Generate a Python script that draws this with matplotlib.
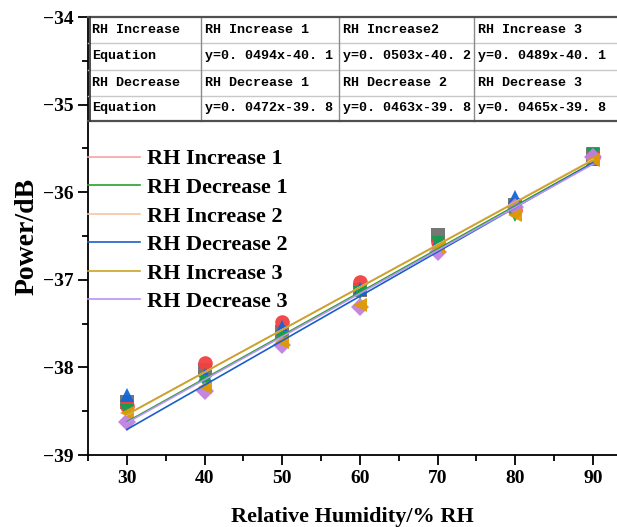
import numpy as np
import matplotlib
matplotlib.use("Agg")
import matplotlib.pyplot as plt

plt.rcParams['font.family'] = ['Liberation Serif', 'DejaVu Serif']
plt.rcParams['font.weight'] = 'bold'
plt.rcParams['axes.labelweight'] = 'bold'

# ---- data ----
rh = [30, 40, 50, 60, 70, 80, 90]
pts_sq = [-38.40, -38.03, -37.60, -37.12, -36.49, -36.15, -35.57]
pts_circ = [-38.44, -37.95, -37.48, -37.03, -36.57, -36.20, -35.60]
pts_up = [-38.32, -38.09, -37.54, -37.11, -36.57, -36.05, -35.62]
pts_down = [-38.50, -38.17, -37.66, -37.15, -36.58, -36.26, -35.56]
pts_diam = [-38.62, -38.27, -37.74, -37.31, -36.68, -36.17, -35.60]
pts_left = [-38.52, -38.22, -37.71, -37.29, -36.62, -36.26, -35.63]

fit_names = ['RH Increase 1', 'RH Decrease 1', 'RH Increase 2',
             'RH Decrease 2', 'RH Increase 3', 'RH Decrease 3']
fit_slopes = [0.0485, 0.0493, 0.0486, 0.0507, 0.0484, 0.0492]
fit_intercepts = [-39.995, -40.100, -40.000, -40.230, -39.990, -40.108]
fit_range = [30, 90]

table_rows = [
    ['RH Increase', 'RH Increase 1', 'RH Increase2', 'RH Increase 3'],
    ['Equation', 'y=0. 0494x-40. 1', 'y=0. 0503x-40. 2', 'y=0. 0489x-40. 1'],
    ['RH Decrease', 'RH Decrease 1', 'RH Decrease 2', 'RH Decrease 3'],
    ['Equation', 'y=0. 0472x-39. 8', 'y=0. 0463x-39. 8', 'y=0. 0465x-39. 8'],
]

# ---- styles ----
scatter_specs = [
    (pts_sq, 's', '#6f6f6f'),
    (pts_circ, 'o', '#f24040'),
    (pts_up, '^', '#1466d6'),
    (pts_down, 'v', '#12a050'),
    (pts_diam, 'D', '#c080e0'),
    (pts_left, '<', '#e09a00'),
]
fit_colors = ['#f6a3a3', '#2aa02a', '#f8c4a4', '#1a5fc8', '#c8a424', '#b894f4']

W, H = 617, 527
fig = plt.figure(figsize=(W / 100, H / 100), dpi=100)
L, R, T, B = 88, 617, 17, 455
ax = fig.add_axes([L / W, (H - B) / H, (R - L) / W, (B - T) / H])

for vals, m, c in scatter_specs:
    ms = 9 if m in ('D',) else 10.5
    ax.plot(rh, vals, linestyle='none', marker=m, color=c, markersize=ms,
            markeredgewidth=0, alpha=0.95, zorder=3)

handles = []
xs = np.array(fit_range)
for name, k, b0, c in zip(fit_names, fit_slopes, fit_intercepts, fit_colors):
    ln, = ax.plot(xs, k * xs + b0, color=c, lw=1.2, zorder=4, label=name)
    handles.append(ln)

ax.set_xlim(25, 93.1)
ax.set_ylim(-39, -34)
ax.set_xticks(rh)
ax.set_xticks([25, 35, 45, 55, 65, 75, 85], minor=True)
ax.set_yticks([-39, -38, -37, -36, -35, -34])
ax.set_yticks([-38.5, -37.5, -36.5, -35.5, -34.5], minor=True)
ax.tick_params(which='major', direction='out', length=7, width=1.3, labelsize=14)
ax.tick_params(which='minor', direction='out', length=4, width=1.3)
for lab in ax.get_xticklabels() + ax.get_yticklabels():
    lab.set_fontweight('bold')
for s in ['top', 'right']:
    ax.spines[s].set_visible(False)
for s in ['left', 'bottom']:
    ax.spines[s].set_linewidth(1.3)

ax.set_xlabel('Relative Humidity/% RH', fontsize=16, fontweight='bold', labelpad=15)
ax.set_ylabel('Power/dB', fontsize=20, fontweight='bold', labelpad=2)

leg = ax.legend(handles=handles, loc='upper left', bbox_to_anchor=(0.0, 0.699),
                frameon=False, handlelength=2.35, handletextpad=0.3,
                borderaxespad=0, borderpad=0, labelspacing=0.36,
                prop={'family': 'Liberation Serif', 'weight': 'bold', 'size': 16})

# ---- table ----
col_px = [88, 201, 339, 474, 617]
row_px = [17, 43, 70, 96, 121]
cx = [(p - L) / (R - L) for p in col_px]
ry = [1 - (p - T) / (B - T) for p in row_px]
tr = ax.transAxes
for i in range(1, 4):
    ax.plot([cx[0], cx[-1]], [ry[i], ry[i]], transform=tr, color='#c8c8c8',
            lw=1.0, clip_on=False, zorder=6)
for j in range(1, 4):
    ax.plot([cx[j], cx[j]], [ry[0], ry[-1]], transform=tr, color='#8a8a8a',
            lw=1.0, clip_on=False, zorder=6)
ax.plot([cx[0], cx[-1]], [ry[0], ry[0]], transform=tr, color='#505050', lw=1.6,
        clip_on=False, zorder=7)
ax.plot([cx[0], cx[-1]], [ry[-1], ry[-1]], transform=tr, color='#505050', lw=1.6,
        clip_on=False, zorder=7)
ax.plot([cx[0] + 0.004, cx[0] + 0.004], [ry[0], ry[-1]], transform=tr,
        color='#303030', lw=1.2, clip_on=False, zorder=7)
for i, row in enumerate(table_rows):
    yc = (ry[i] + ry[i + 1]) / 2
    for j, txt in enumerate(row):
        ax.text(cx[j] + 0.008, yc, txt, transform=tr, ha='left', va='center',
                fontsize=9.6, family=['Liberation Mono', 'DejaVu Sans Mono'],
                fontweight='bold', color='black', zorder=8)

fig.savefig('out.png', dpi=100)
